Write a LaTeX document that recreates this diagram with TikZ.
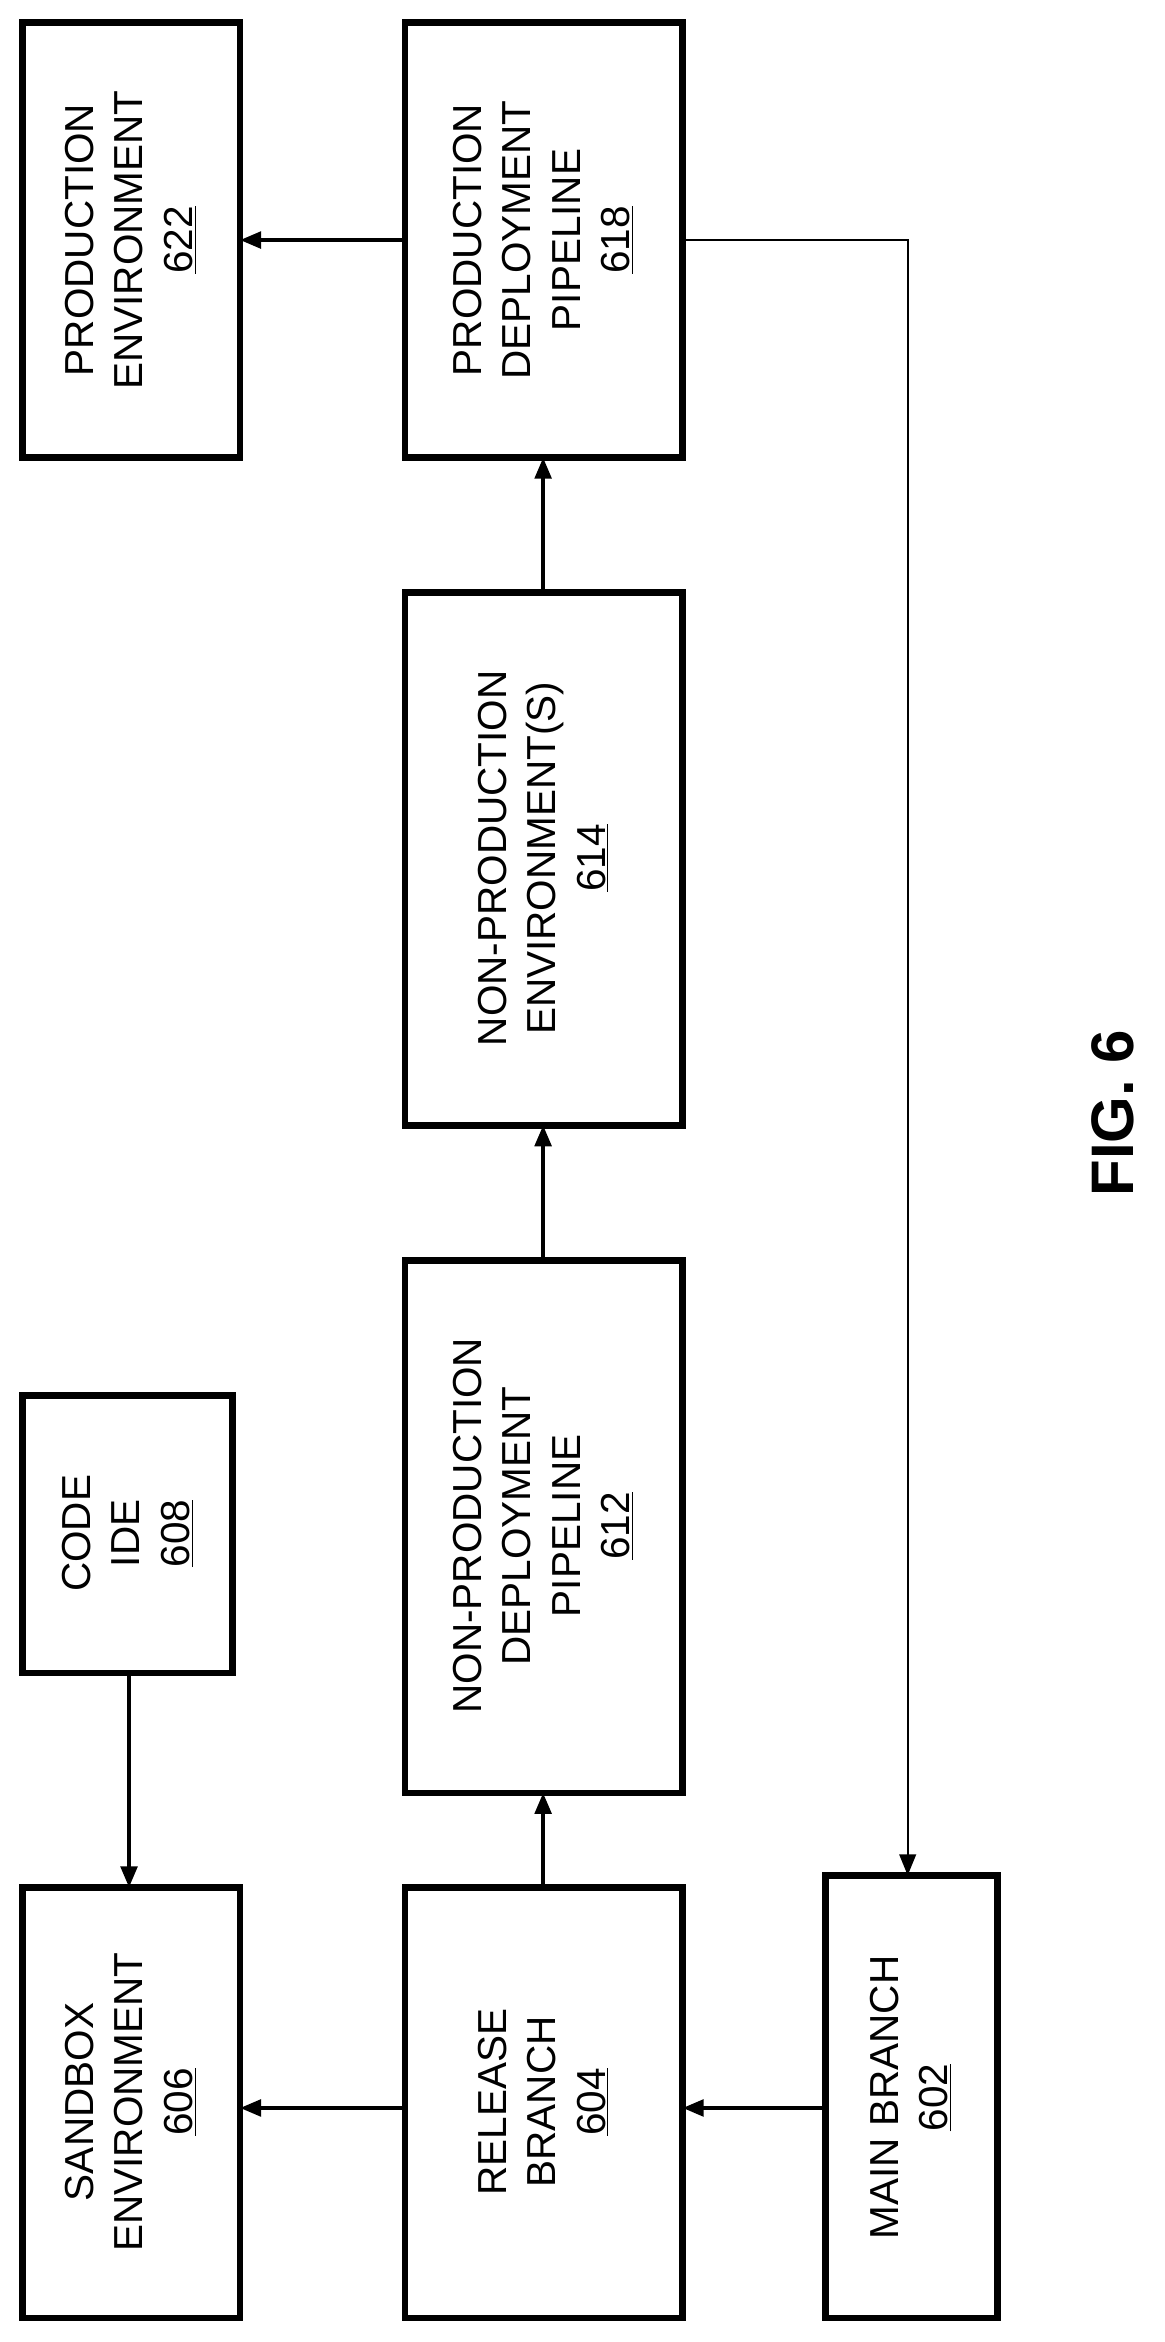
\documentclass[tikz,border=0pt]{standalone}
\usepackage{fontspec}
\setmainfont{Liberation Sans}
\usetikzlibrary{arrows.meta}
\begin{document}
\begin{tikzpicture}[x=1pt,y=-1pt,
  blk/.style={draw,line width=4.5pt,inner sep=0pt},
  lbl/.style={rotate=90,align=center,font=\fontsize{27}{33}\selectfont},
  arr/.style={line width=2.6pt,-{Triangle[length=14pt,width=11pt]}}]
\useasboundingbox (0,0) rectangle (776,1561);
\draw[blk] (15,1258) rectangle (160,1545); \node[lbl] (t606) at (87,1401) {SANDBOX\\ENVIRONMENT\\\underline{606}};
\coordinate (s606) at (86,1258);
\draw[blk] (15,930) rectangle (155,1115); \node[lbl] (t608) at (85,1022) {CODE\\IDE\\\underline{608}};
\draw[blk] (270,1258) rectangle (455,1545); \node[lbl] (t604) at (362,1401) {RELEASE\\BRANCH\\\underline{604}};
\draw[blk] (270,840) rectangle (455,1195); \node[lbl] (t612) at (362,1017) {NON-PRODUCTION\\DEPLOYMENT\\PIPELINE\\\underline{612}};
\draw[blk] (270,395) rectangle (455,750); \node[lbl] (t614) at (362,572) {NON-PRODUCTION\\ENVIRONMENT(S)\\\underline{614}};
\draw[blk] (270,15) rectangle (455,305); \node[lbl] (t618) at (362,160) {PRODUCTION\\DEPLOYMENT\\PIPELINE\\\underline{618}};
\draw[blk] (15,15) rectangle (160,305); \node[lbl] (t622) at (87,160) {PRODUCTION\\ENVIRONMENT\\\underline{622}};
\draw[blk] (550,1250) rectangle (665,1545); \node[lbl] (t602) at (607,1398) {MAIN BRANCH\\\underline{602}};
\node[rotate=90,font=\bfseries\fontsize{40}{44}\selectfont] (fig) at (742,742) {FIG. 6};
\coordinate (a1) at (270,1405); \coordinate (a2) at (160,1405);
\draw[arr] (a1) -- (a2);
\coordinate (b1) at (86,1115); \draw[arr] (b1) -- (s606);
\coordinate (c1) at (550,1405); \coordinate (c2) at (455,1405); \draw[arr] (c1) -- (c2);
\coordinate (d1) at (362,1258); \coordinate (d2) at (362,1195); \draw[arr] (d1) -- (d2);
\coordinate (e1) at (362,840); \coordinate (e2) at (362,750); \draw[arr] (e1) -- (e2);
\coordinate (f1) at (362,395); \coordinate (f2) at (362,305); \draw[arr] (f1) -- (f2);
\coordinate (g1) at (270,160); \coordinate (g2) at (160,160); \draw[arr] (g1) -- (g2);
\coordinate (h1) at (455,160); \coordinate (h2) at (605,160); \coordinate (h3) at (605,1250);
\draw[arr,line width=1.6pt] (h1) -- (h2) -- (h3);
\end{tikzpicture}
\end{document}
